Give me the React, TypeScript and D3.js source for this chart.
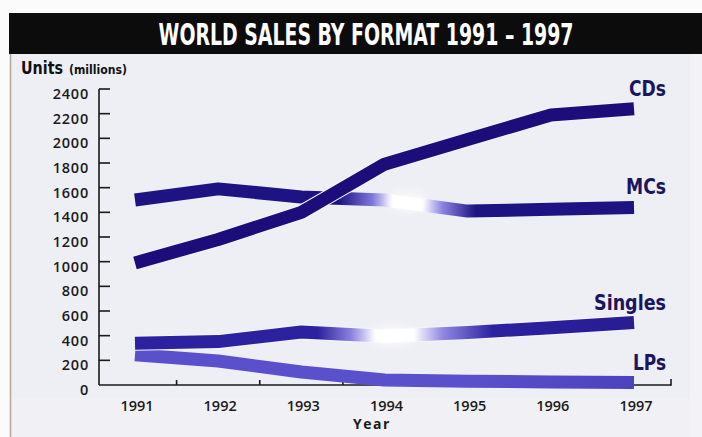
import * as d3 from "d3";

const YEARS = [1991, 1992, 1993, 1994, 1995, 1996, 1997];
const CDS = [990, 1180, 1400, 1790, 1990, 2190, 2240];
const MCS = [1500, 1590, 1525, 1500, 1410, 1425, 1440];
const SINGLES = [338, 352, 430, 395, 425, 465, 506];
const LPS = [245, 195, 105, 40, 30, 25, 20];
const Y_TICKS = [0, 200, 400, 600, 800, 1000, 1200, 1400, 1600, 1800, 2000, 2200, 2400];
const HALF_TICKS = [1991.5, 1992.5, 1993.5, 1994.5, 1995.5, 1996.5];

const W = 702;
const H = 437;

const x = d3.scaleLinear().domain([1991, 1997]).range([135, 634]);
const y = d3.scaleLinear().domain([0, 2400]).range([385, 89]);

const line = d3
  .line<number>()
  .x((_, i) => x(YEARS[i]))
  .y((d) => y(d));

const NARROW = "'Liberation Sans Narrow', 'DejaVu Sans Condensed', 'Roboto', sans-serif";
const LABEL_FONT = "'Open Sans', 'DejaVu Sans', sans-serif";

// fade stops: [year, color, opacity]
type Stop = [number, string, number];

interface Series {
  key: string;
  label: string;
  labelWidth: number;
  values: number[];
  color: string;
  underlay?: boolean;
  fade?: Stop[];
}

const SERIES: Series[] = [
  {
    key: "lps",
    label: "LPs",
    labelWidth: 33,
    values: LPS,
    color: "#5a50cc",
    fade: [
      [1991, "#5a50cc", 1],
      [1995, "#5a50cc", 1],
      [1997, "#4c42bd", 1],
    ],
  },
  {
    key: "singles",
    label: "Singles",
    labelWidth: 72,
    values: SINGLES,
    color: "#2c229f",
    underlay: true,
    fade: [
      [1991, "#2c229f", 1],
      [1993.2, "#2c229f", 1],
      [1993.6, "#8a82e0", 1],
      [1993.9, "#ffffff", 1],
      [1994.35, "#ffffff", 1],
      [1994.7, "#9088e2", 1],
      [1995.3, "#2c229f", 1],
      [1997, "#271c92", 1],
    ],
  },
  {
    key: "mcs",
    label: "MCs",
    labelWidth: 40,
    values: MCS,
    color: "#1d1382",
    fade: [
      [1991, "#1d1382", 1],
      [1993.45, "#1d1382", 1],
      [1993.85, "#7d74dc", 1],
      [1994.1, "#ffffff", 1],
      [1994.45, "#ffffff", 1],
      [1994.7, "#8a82e2", 1],
      [1995.1, "#1d1382", 1],
      [1997, "#1d1382", 1],
    ],
  },
  { key: "cds", label: "CDs", labelWidth: 37, values: CDS, color: "#1b0e7b", underlay: true },
];

function Gradient({ id, stops }: { id: string; stops: Stop[] }) {
  const x1 = x(1991);
  const x2 = x(1997);
  return (
    <linearGradient id={id} gradientUnits="userSpaceOnUse" x1={x1} y1={0} x2={x2} y2={0}>
      {stops.map(([yr, c, o], i) => (
        <stop key={i} offset={(x(yr) - x1) / (x2 - x1)} stopColor={c} stopOpacity={o} />
      ))}
    </linearGradient>
  );
}

export default function App() {
  const axisX = 99;
  const axisEnd = 671;
  const y0 = y(0);

  return (
    <div style={{ position: "fixed", left: 0, top: 0 }}>
      <svg width={W} height={H} style={{ display: "block" }}>
        <defs>
          {SERIES.filter((s) => s.fade).map((s) => (
            <Gradient key={s.key} id={`grad-${s.key}`} stops={s.fade!} />
          ))}
          <filter id="glow" x="-50%" y="-50%" width="200%" height="200%">
            <feGaussianBlur stdDeviation="5" />
          </filter>
        </defs>

        {/* page + panel */}
        <rect x={0} y={0} width={W} height={H} fill="#fbfbfb" />
        <rect x={10} y={54} width={W - 10} height={H - 54} fill="#eeeef5" />
        <rect x={10} y={398} width={W - 10} height={H - 398} fill="#f1f1f5" />
        <rect x={690} y={54} width={W - 690} height={H - 54} fill="#f3f3f7" />
        <line x1={10.5} y1={54} x2={10.5} y2={H} stroke="#b8a89a" strokeWidth={1.5} />

        {/* header band */}
        <rect x={9} y={13} width={W - 9} height={41} fill="#0c0c0c" />
        <text
          transform="translate(366,45) scale(1,1.4)"
          fill="#ffffff"
          fontFamily={NARROW}
          fontWeight="bold"
          fontSize={21}
          textAnchor="middle"
        >
          WORLD SALES BY FORMAT 1991 – 1997
        </text>

        {/* y axis title */}
        <text x={21} y={74} fill="#111" fontFamily={NARROW} fontWeight="bold" fontSize={18} textLength={42} lengthAdjust="spacingAndGlyphs">
          Units
        </text>
        <text x={69} y={74} fill="#111" fontFamily={NARROW} fontWeight="bold" fontSize={12} textLength={58} lengthAdjust="spacingAndGlyphs">
          (millions)
        </text>

        {/* y axis */}
        <line x1={axisX} y1={y(2400)} x2={axisX} y2={y0} stroke="#1a1a1a" strokeWidth={1.6} />
        {Y_TICKS.map((t) => (
          <g key={t}>
            {t > 0 && <line x1={axisX} x2={axisX + 11} y1={y(t)} y2={y(t)} stroke="#1a1a1a" strokeWidth={1.6} />}
            <text
              x={89}
              y={y(t) + 10}
              textAnchor="end"
              fill="#1a1a1a"
              fontFamily={LABEL_FONT}
              fontWeight={600}
              fontSize={14.5}
              letterSpacing={0.8}
            >
              {t}
            </text>
          </g>
        ))}

        {/* x axis */}
        <line x1={axisX} y1={y0} x2={axisEnd} y2={y0} stroke="#1a1a1a" strokeWidth={1.6} />
        {HALF_TICKS.map((t) => (
          <line key={t} x1={x(t)} x2={x(t)} y1={y0} y2={y0 - 5} stroke="#1a1a1a" strokeWidth={1.6} />
        ))}
        <line x1={axisEnd} x2={axisEnd} y1={y0 + 0.8} y2={y0 - 6} stroke="#1a1a1a" strokeWidth={1.6} />
        {YEARS.map((yr) => (
          <text key={yr} x={x(yr) + 2} y={411} textAnchor="middle" fill="#1a1a1a" fontFamily={LABEL_FONT} fontWeight={600} fontSize={14.5}>
            {yr}
          </text>
        ))}
        <text x={372} y={429} textAnchor="middle" fill="#1a1a1a" fontFamily={LABEL_FONT} fontWeight={700} fontSize={14} letterSpacing={1.5}>
          Year
        </text>

        {/* series */}
        {SERIES.map((s) => (
          <g key={s.key}>
            {s.underlay && (
              <path d={line(s.values) ?? ""} fill="none" stroke="#f4f4fa" strokeWidth={15} strokeLinejoin="round" />
            )}
            <path
              d={line(s.values) ?? ""}
              fill="none"
              stroke={s.fade ? `url(#grad-${s.key})` : s.color}
              strokeWidth={13}
              strokeLinecap="butt"
              strokeLinejoin="round"
            />
          </g>
        ))}

        {/* glare spots */}
        <ellipse cx={x(1994.28)} cy={y(1490)} rx={18} ry={9} fill="#ffffff" opacity={0.8} filter="url(#glow)" />
        <ellipse cx={x(1994.1)} cy={y(400)} rx={20} ry={9} fill="#ffffff" opacity={0.8} filter="url(#glow)" />

        {/* series labels */}
        {SERIES.map((s) => (
          <text
            key={s.key}
            x={666}
            y={y(s.values[s.values.length - 1]) - 13}
            textAnchor="end"
            fill="#1a1560"
            fontFamily={NARROW}
            fontWeight="bold"
            fontSize={21}
            textLength={s.labelWidth}
            lengthAdjust="spacingAndGlyphs"
          >
            {s.label}
          </text>
        ))}
      </svg>
    </div>
  );
}
